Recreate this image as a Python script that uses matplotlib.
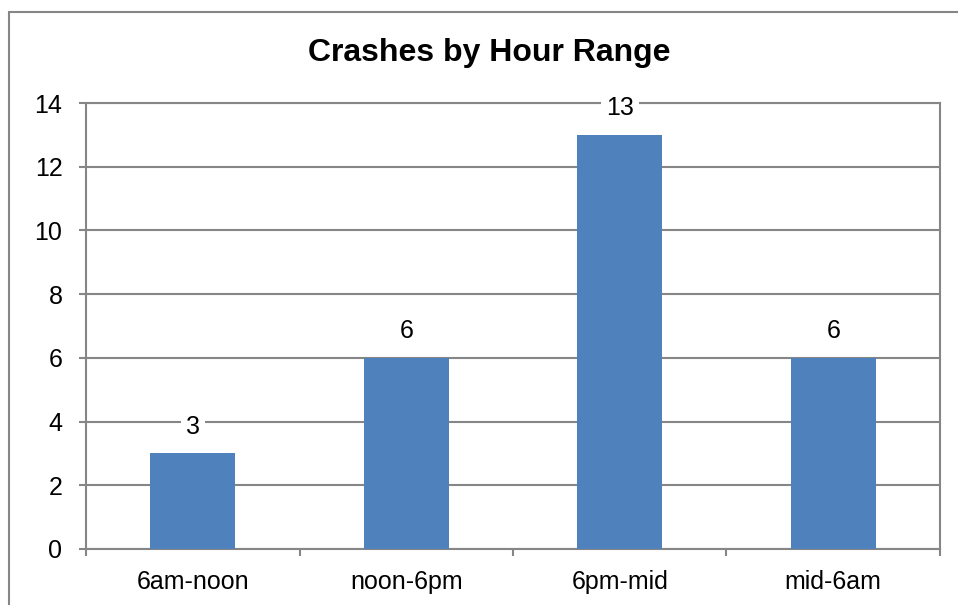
import matplotlib.pyplot as plt
from matplotlib.patches import Rectangle

categories = ['6am-noon', 'noon-6pm', '6pm-mid', 'mid-6am']
crashes = [3, 6, 13, 6]
yticks = [0, 2, 4, 6, 8, 10, 12, 14]

plt.rcParams['font.family'] = ['Liberation Sans', 'DejaVu Sans']

W, H = 958, 605
fig = plt.figure(figsize=(W / 100, H / 100), dpi=100)
ax = fig.add_axes([86 / W, 1 - 549 / H, (940 - 86) / W, (549 - 103) / H])

gray = '#868686'
x = list(range(len(categories)))
ax.bar(x, crashes, width=0.4, color='#4F81BD', zorder=3)
for xi, v in zip(x, crashes):
    ax.annotate(str(v), (xi, v), xytext=(0, 19), textcoords='offset points',
                ha='center', va='center', fontsize=18,
                bbox=dict(boxstyle='square,pad=0.2', fc='white', ec='none'), zorder=4)

ax.set_xlim(-0.5, len(categories) - 0.5)
ax.set_ylim(0, 14)
ax.set_yticks(yticks)
ax.set_yticklabels([str(t) for t in yticks], fontsize=18)
ax.yaxis.grid(True, color=gray, linewidth=1.5, zorder=0)
ax.set_axisbelow(True)

ax.set_xticks(x)
ax.set_xticklabels(categories, fontsize=18)
ax.tick_params(axis='x', length=0, pad=15)
ax.set_xticks([i - 0.5 for i in range(len(categories) + 1)], minor=True)
ax.tick_params(axis='x', which='minor', length=5, width=1.5, color=gray, direction='out')
ax.tick_params(axis='y', length=5, width=1.5, color=gray, direction='out', pad=12)
for s in ax.spines.values():
    s.set_color(gray)
    s.set_linewidth(1.5)

fig.text(489 / W, 1 - 53 / H, 'Crashes by Hour Range', ha='center', va='center',
         fontsize=23, fontweight='bold')

fig.patches.append(Rectangle((9 / W, -0.1), 1.1, 1 - 12 / H + 0.1, transform=fig.transFigure,
                             fill=False, ec=gray, lw=1.5, zorder=0))

fig.savefig('out.png', dpi=100)
